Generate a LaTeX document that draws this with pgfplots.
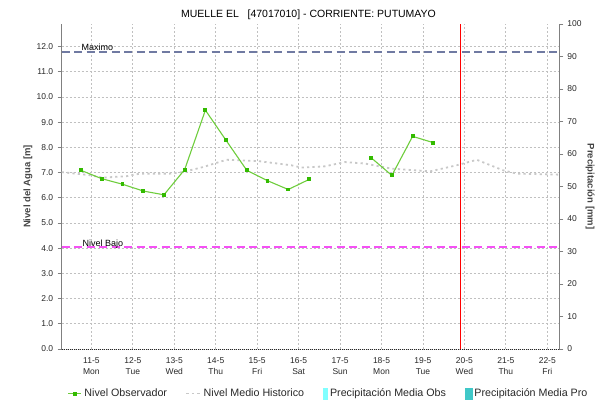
\documentclass[border=0pt]{standalone}
\usepackage{pgfplots}
\pgfplotsset{compat=1.18}
\usepackage{fontspec}
\setmainfont{Liberation Sans}
\definecolor{obsline}{RGB}{110,205,60}
\definecolor{obsmark}{RGB}{51,187,0}
\definecolor{histc}{RGB}{200,200,200}
\definecolor{maxc}{RGB}{112,122,162}
\definecolor{bajoc}{RGB}{245,80,245}
\definecolor{gridc}{RGB}{192,192,192}
\definecolor{pobs}{RGB}{128,255,255}
\definecolor{ppro}{RGB}{64,200,200}
\definecolor{axc}{RGB}{128,128,128}
\definecolor{txt}{RGB}{40,40,40}
\definecolor{labc}{RGB}{68,68,68}

\pgfplotstableread{
x y
-0.25 7.09
0.25 6.76
0.75 6.54
1.25 6.27
1.75 6.12
2.25 7.12
2.75 9.48
3.25 8.28
3.75 7.09
4.25 6.68
4.75 6.33
5.25 6.73
5.75 nan
6.75 7.59
7.25 6.89
7.75 8.44
8.25 8.19
}\obsdata

\pgfplotstableread{
x y
-0.717 7.02
-0.04 6.90
0.27 6.80
0.85 6.86
1.17 6.96
1.89 6.96
2.20 7.02
2.69 7.22
3.26 7.51
4.02 7.46
4.83 7.29
5.07 7.20
5.63 7.25
6.12 7.42
6.60 7.36
7.24 7.16
8.17 7.05
8.81 7.29
9.30 7.51
9.94 7.09
10.26 6.96
11.29 6.92
}\histdata

\newcommand{\tickfont}{\fontsize{8.5}{11.5}\selectfont}
\newcommand{\legfont}{\fontsize{10.7}{12}\selectfont}

\begin{document}
\begin{tikzpicture}
\begin{axis}[
  at={(61.7pt,54pt)}, anchor=south west,
  scale only axis, width=497.6pt, height=325pt,
  xmin=-0.717, xmax=11.29, ymin=0, ymax=12.9,
  axis x line*=bottom, axis y line*=left,
  x axis line style={-, black!85, line width=0.8pt, dash pattern=on 1pt off 1pt},
  y axis line style={-, axc, line width=0.9pt},
  xtick={0,...,11},
  xticklabels={{11-5\\Mon},{12-5\\Tue},{13-5\\Wed},{14-5\\Thu},{15-5\\Fri},{16-5\\Sat},{17-5\\Sun},{18-5\\Mon},{19-5\\Tue},{20-5\\Wed},{21-5\\Thu},{22-5\\Fri}},
  xticklabel style={align=center, font=\tickfont, text=txt, yshift=-1pt},
  x tick style={draw=none},
  ytick={0,1,...,12},
  yticklabel style={font=\tickfont, text=txt, xshift=-1pt},
  y tick style={axc, line width=0.8pt},
  tick align=outside, major tick length=4pt,
  /pgf/number format/.cd, fixed, fixed zerofill, precision=1, assume math mode=true,
  /pgfplots/.cd,
  grid=major,
  major grid style={gridc, line width=0.8pt, dash pattern=on 2pt off 2pt},
  ylabel={Nivel del Agua [m]},
  ylabel style={at={(axis description cs:-0.068,0.5)}, anchor=center, font=\bfseries\fontsize{9.5}{11}\selectfont, text=labc},
  title={MUELLE EL\ \ \ [47017010] - CORRIENTE: PUTUMAYO},
  title style={at={(axis description cs:0.496,1.010)}, anchor=center, font=\fontsize{10.5}{12}\selectfont, text=black},
  legend columns=4,
  legend style={at={(axis description cs:0.537,-0.137)}, anchor=center, draw=none, fill=none,
    font=\legfont, text=txt, inner sep=0pt,
    nodes={inner xsep=2.5pt, inner ysep=1pt},
    /tikz/every even column/.append style={column sep=16pt}},
  unbounded coords=jump,
]
\addlegendimage{legend image code/.code={\draw[obsline, line width=1pt] (0pt,0pt) -- (13pt,0pt); \fill[obsmark] (4.9pt,-1.6pt) rectangle (8.1pt,1.6pt);}}
\addlegendentry{Nivel Observador}
\addlegendimage{legend image code/.code={\draw[histc, line width=1.6pt, dash pattern=on 2.5pt off 3pt] (0pt,0pt) -- (14pt,0pt);}}
\addlegendentry{Nivel Medio Historico}
\addlegendimage{legend image code/.code={\fill[pobs] (0pt,-5.5pt) rectangle (4.5pt,5.5pt);}}
\addlegendentry{Precipitación Media Obs}
\addlegendimage{legend image code/.code={\fill[ppro] (0pt,-5.5pt) rectangle (7pt,5.5pt);}}
\addlegendentry{Precipitación Media Pro}

\addplot[histc, line width=1.8pt, dash pattern=on 2.2pt off 3.2pt, forget plot] table[x=x,y=y] {\histdata};
\addplot[obsline, line width=1.1pt, mark=square*, mark size=1.4pt, mark options={fill=obsmark, draw=obsmark, solid}, forget plot] table[x=x,y=y] {\obsdata};
\addplot[maxc, line width=2pt, dash pattern=on 8pt off 4.5pt, forget plot] coordinates {(-0.717,11.77) (11.29,11.77)};
\addplot[bajoc, line width=2pt, dash pattern=on 8pt off 4.5pt, forget plot] coordinates {(-0.717,4.05) (11.29,4.05)};
\addplot[red, line width=1.3pt, forget plot] coordinates {(8.91,0) (8.91,12.9)};
\node[anchor=base west, inner sep=0pt, font=\fontsize{9}{10}\selectfont] at (axis cs:-0.24,11.83) {Maximo};
\node[anchor=base west, inner sep=0pt, font=\fontsize{9}{10}\selectfont] at (axis cs:-0.217,4.08) {Nivel Bajo};
\end{axis}
\begin{axis}[
  at={(61.7pt,54pt)}, anchor=south west,
  scale only axis, width=497.6pt, height=325pt,
  xmin=-0.717, xmax=11.29, ymin=0, ymax=100,
  axis x line=none, axis y line*=right,
  y axis line style={-, axc, line width=0.9pt},
  ytick={0,10,...,100},
  yticklabel style={font=\tickfont, text=txt, xshift=0.5pt},
  y tick style={axc, line width=0.8pt},
  tick align=outside, major tick length=4pt,
  /pgf/number format/assume math mode=true,
  ylabel={Precipitación [mm]},
  ylabel style={at={(axis description cs:1.062,0.5)}, anchor=center, rotate=180, font=\bfseries\fontsize{9.5}{11}\selectfont, text=labc},
]
\addplot[draw=none, forget plot] coordinates {(0,0)};
\end{axis}
\pgfresetboundingbox
\path[use as bounding box] (0,0) rectangle (596pt,403pt);
\end{tikzpicture}
\end{document}
